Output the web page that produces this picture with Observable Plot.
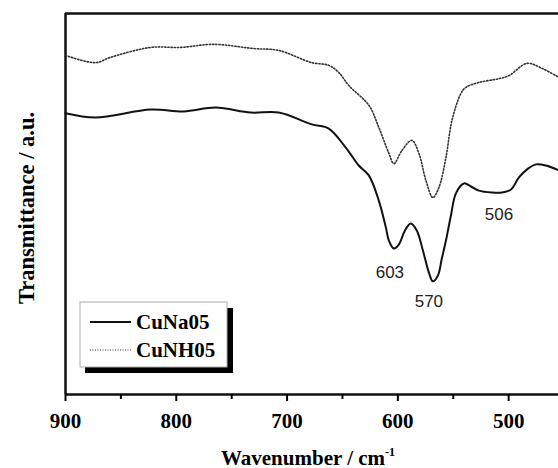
<!DOCTYPE html>
<html><head><meta charset="utf-8">
<script src="https://cdn.jsdelivr.net/npm/d3@7"></script>
<script src="https://cdn.jsdelivr.net/npm/@observablehq/plot@0.6"></script>
<style>body{margin:0;background:#fff} #chart{width:558px;height:468px}</style>
</head><body><div id="chart"></div>
<script>
// CuNa05 (solid)
const cuNa05Wn = [900,872.9,823.2,793.4,764.5,732.8,707.5,677.7,662.4,647.0,635.3,626.2,617.2,610.8,608.1,603.6,599,593.7,588.3,582.8,577.4,572.0,568.4,563.9,560.3,556.6,552.1,547.6,540.4,534.0,526.8,515.1,506.0,497.9,490.7,482.5,475.3,466.3,454.5];
const cuNa05T  = [73.8,72.7,74.8,74.3,75.3,74.0,74.0,70.9,69.8,64.8,60.1,57.5,50.9,43.8,40.4,38.3,39.4,43.0,44.9,43.0,37.8,32.0,29.7,31.2,35.7,40.4,47.0,52.8,55.4,54.6,53.5,53.0,53.0,53.8,57.0,59.3,60.4,60.1,58.8];
// CuNH05 (dotted)
const cuNH05Wn = [900,872.9,859.3,823.2,796.1,766.3,730.1,707.5,677.7,662.4,653.3,644.3,626.2,617.2,608.1,603.6,596.4,587.4,581.0,574.7,568.4,563.0,556.6,551.2,543.1,538.6,526.8,508.7,499.7,483.4,469.9,454.5];
const cuNH05T  = [89.0,87.1,88.5,91.1,91.1,91.9,90.8,90.3,87.1,86.4,84.5,81.1,75.9,70.1,63.3,60.6,64.0,66.7,63.3,56.2,51.7,54.3,62.2,71.9,79.0,80.6,81.9,82.9,83.7,86.9,85.6,83.2];
// peak annotations
const peakLabels = ["603","570","506"];
const peakLabelWn = [607.2,572,508.7];
const peakLabelT = [32.0,24.4,47.2];
// axis ticks
const majorTicks = [900,800,700,600,500];
const minorTicks = [850,750,650,550];
const seriesNames = ["CuNa05","CuNH05"];
const xLabel = "Wavenumber / cm";
const xLabelSup = "-1";
const yLabel = "Transmittance / a.u.";

const na = cuNa05Wn.map((w,i)=>({wn:w, t:cuNa05T[i]}));
const nh = cuNH05Wn.map((w,i)=>({wn:w, t:cuNH05T[i]}));
const peaks = peakLabels.map((p,i)=>({text:p, wn:peakLabelWn[i], t:peakLabelT[i]}));

const serif = "'Liberation Serif','Times New Roman',serif";
const sans = "'Liberation Sans',Arial,sans-serif";

const chart = Plot.plot({
  width:558, height:468, marginTop:13, marginBottom:74, marginLeft:65, marginRight:0,
  x:{domain:[900,455]}, y:{domain:[0,100]},
  style:{background:"#fff", fontFamily:serif, color:"#000"},
  marks:[
    Plot.ruleY([100],{strokeWidth:2.5, stroke:"#111"}),
    Plot.ruleX([900],{strokeWidth:2.5, stroke:"#111"}),
    Plot.ruleY([0],{strokeWidth:2.5, stroke:"#111"}),
    Plot.lineY(nh,{x:"wn", y:"t", curve:"catmull-rom", stroke:"#333", strokeWidth:1.6, strokeDasharray:"1.3,1.9"}),
    Plot.lineY(na,{x:"wn", y:"t", curve:"catmull-rom", stroke:"#111", strokeWidth:2}),
    Plot.axisX({ticks:majorTicks, tickSize:7, tickPadding:12, fontSize:21, fontWeight:"bold", fontFamily:serif, tickFormat:d=>String(d), label:null, strokeWidth:2}),
    Plot.axisX({ticks:minorTicks, tickSize:5, tickFormat:()=>"", label:null, strokeWidth:2}),
    Plot.axisY({ticks:[], label:null}),
    Plot.text(peaks,{x:"wn", y:"t", text:"text", fontFamily:sans, fontSize:17, fill:"#222"}),
    Plot.text([xLabel],{frameAnchor:"bottom", dy:70, dx:-4, fontSize:21, fontWeight:"bold", fontFamily:serif}),
    Plot.text([yLabel],{frameAnchor:"left", dx:-39, dy:4, rotate:-90, textAnchor:"middle", fontSize:22.5, fontWeight:"bold", fontFamily:serif})
  ]
});
document.getElementById("chart").appendChild(chart);

const svg = d3.select(chart);
svg.selectAll("text").filter(function(){return this.textContent===xLabel;}).each(function(){
  d3.select(this).append("tspan").attr("dy","-9").style("font-size","12px").text(xLabelSup);
});

// legend
const lg = svg.append("g");
lg.append("rect").attr("x",85).attr("y",308).attr("width",148).attr("height",65).attr("fill","#000");
lg.append("rect").attr("x",80).attr("y",302).attr("width",147).attr("height",65).attr("fill","#fff").attr("stroke","#aaa").attr("stroke-width",1);
const ly = [322,350];
lg.append("line").attr("x1",90).attr("x2",131).attr("y1",ly[0]).attr("y2",ly[0]).attr("stroke","#111").attr("stroke-width",2);
lg.append("line").attr("x1",90).attr("x2",131).attr("y1",ly[1]).attr("y2",ly[1]).attr("stroke","#333").attr("stroke-width",1.2).attr("stroke-dasharray","1,1.5");
seriesNames.forEach((s,i)=>{
  lg.append("text").attr("x",136).attr("y",ly[i]).attr("dy","0.35em")
    .style("font-family",serif).style("font-weight","bold").style("font-size","21px")
    .attr("text-anchor","start").attr("fill","#000").text(s);
});
</script></body></html>
